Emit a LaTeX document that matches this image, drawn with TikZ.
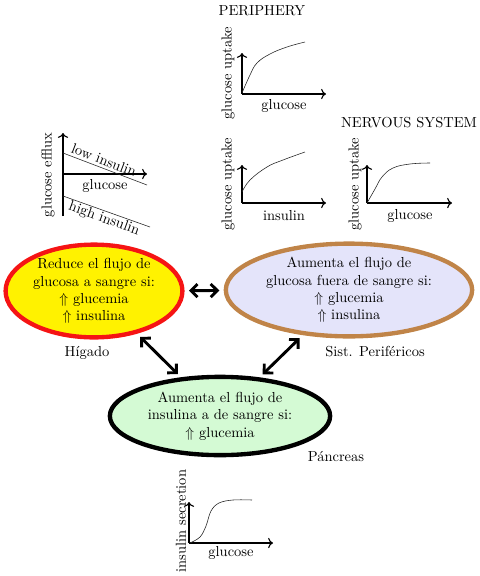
\documentclass[tikz,border=0pt]{standalone}
\usepackage{tikz}
\usetikzlibrary{shapes.geometric,arrows.meta,positioning}
\usepackage{xcolor}
\definecolor{LiverFill}{RGB}{255,242,0}
\definecolor{LiverRed}{RGB}{245,20,20}
\definecolor{PeriBrown}{RGB}{192,132,72}
\definecolor{PeriFill}{RGB}{228,228,250}
\definecolor{PancFill}{RGB}{212,250,212}

\begin{document}
\begin{tikzpicture}[x=0.69pt,y=-0.69pt,
    organ/.style={ellipse,line width=3pt,inner sep=0pt,align=center},
    axis/.style={->,thick},
    curve/.style={black!85},
    lbl/.style={inner sep=0pt},
    ylbl/.style={inner sep=0pt,rotate=90},
    link/.style={<->,>={Straight Barb[length=4.5pt,width=9pt]},line width=2pt,
                 shorten <=3pt,shorten >=3pt}]
  \useasboundingbox (0,0) rectangle (480,576);

  % organs
  \node[organ,draw=LiverRed,fill=LiverFill,minimum width=122pt,minimum height=64pt]
    (liver) at (94,291) {Reduce el flujo de\\glucosa a sangre si:\\$\Uparrow$ glucemia\\$\Uparrow$ insulina};
  \node[organ,draw=PeriBrown,fill=PeriFill,minimum width=170pt,minimum height=64pt]
    (peri) at (349,290) {Aumenta el flujo de\\glucosa fuera de sangre si:\\$\Uparrow$ glucemia\\$\Uparrow$ insulina};
  \node[organ,draw=black,fill=PancFill,minimum width=152pt,minimum height=54pt]
    (panc) at (220,416) {Aumenta el flujo de\\insulina a de sangre si:\\$\Uparrow$ glucemia};

  \node[lbl] (higado) at (87,353) {H\'igado};
  \node[lbl] (sist) at (375,352) {Sist. Perif\'ericos};
  \node[lbl] (pancreas) at (336,457) {P\'ancreas};

  \draw[link] (liver) -- (peri);
  \draw[link] (liver) -- (panc);
  \draw[link] (peri) -- (panc);

  % liver plot
  \coordinate (lo) at (63,174);
  \draw[axis] (63,216) -- (63,133);
  \draw[axis] (lo) -- (147,174);
  \draw[curve] (63,153) -- (147,185);
  \draw[curve] (63,196) -- (150,227);
  \node[lbl,rotate=-21] (low) at (104,160) {low insulin};
  \node[lbl,rotate=-20] (high) at (104,219) {high insulin};
  \node[lbl] (lx) at (105,186) {glucose};
  \node[ylbl] (ly) at (48,175) {glucose efflux};

  % periphery, glucose
  \node[lbl] (ptitle) at (262,11) {PERIPHERY};
  \coordinate (pg) at (242,94);
  \draw[axis] (pg) -- (242,53);
  \draw[axis] (pg) -- (326,94);
  \draw[curve] plot[smooth,tension=0.7] coordinates {(242,93) (250,75) (257,63) (270,54) (287,47) (305,42)};
  \node[lbl] (pgx) at (284,106) {glucose};
  \node[ylbl] (pgy) at (228,73) {glucose uptake};

  % periphery, insulin
  \coordinate (pi) at (242,203);
  \draw[axis] (pi) -- (242,165);
  \draw[axis] (pi) -- (326,203);
  \draw[curve] plot[smooth,tension=0.7] coordinates {(242,192) (250,180) (267,167) (283,160) (305,152)};
  \node[lbl] (pix) at (284,216) {insulin};
  \node[ylbl] (piy) at (228,184) {glucose uptake};

  % nervous system
  \node[lbl] (ntitle) at (409,123) {NERVOUS SYSTEM};
  \coordinate (ns) at (367,203);
  \draw[axis] (ns) -- (367,165);
  \draw[axis] (ns) -- (452,203);
  \draw[curve] plot[smooth,tension=0.7] coordinates {(367,203) (375,189) (382,177) (393,168) (410,164) (430,163)};
  \node[lbl] (nsx) at (410,216) {glucose};
  \node[ylbl] (nsy) at (355,184) {glucose uptake};

  % pancreas plot
  \coordinate (pa) at (189,543);
  \draw[axis] (pa) -- (189,502);
  \draw[axis] (pa) -- (273,543);
  \draw[curve] plot[smooth,tension=0.6] coordinates {(190,543) (200,537) (206,526) (211,511) (219,503) (233,500) (252,500)};
  \node[lbl] (pax) at (231,553) {glucose};
  \node[ylbl] (pay) at (181,521) {insulin secretion};
\end{tikzpicture}
\end{document}
